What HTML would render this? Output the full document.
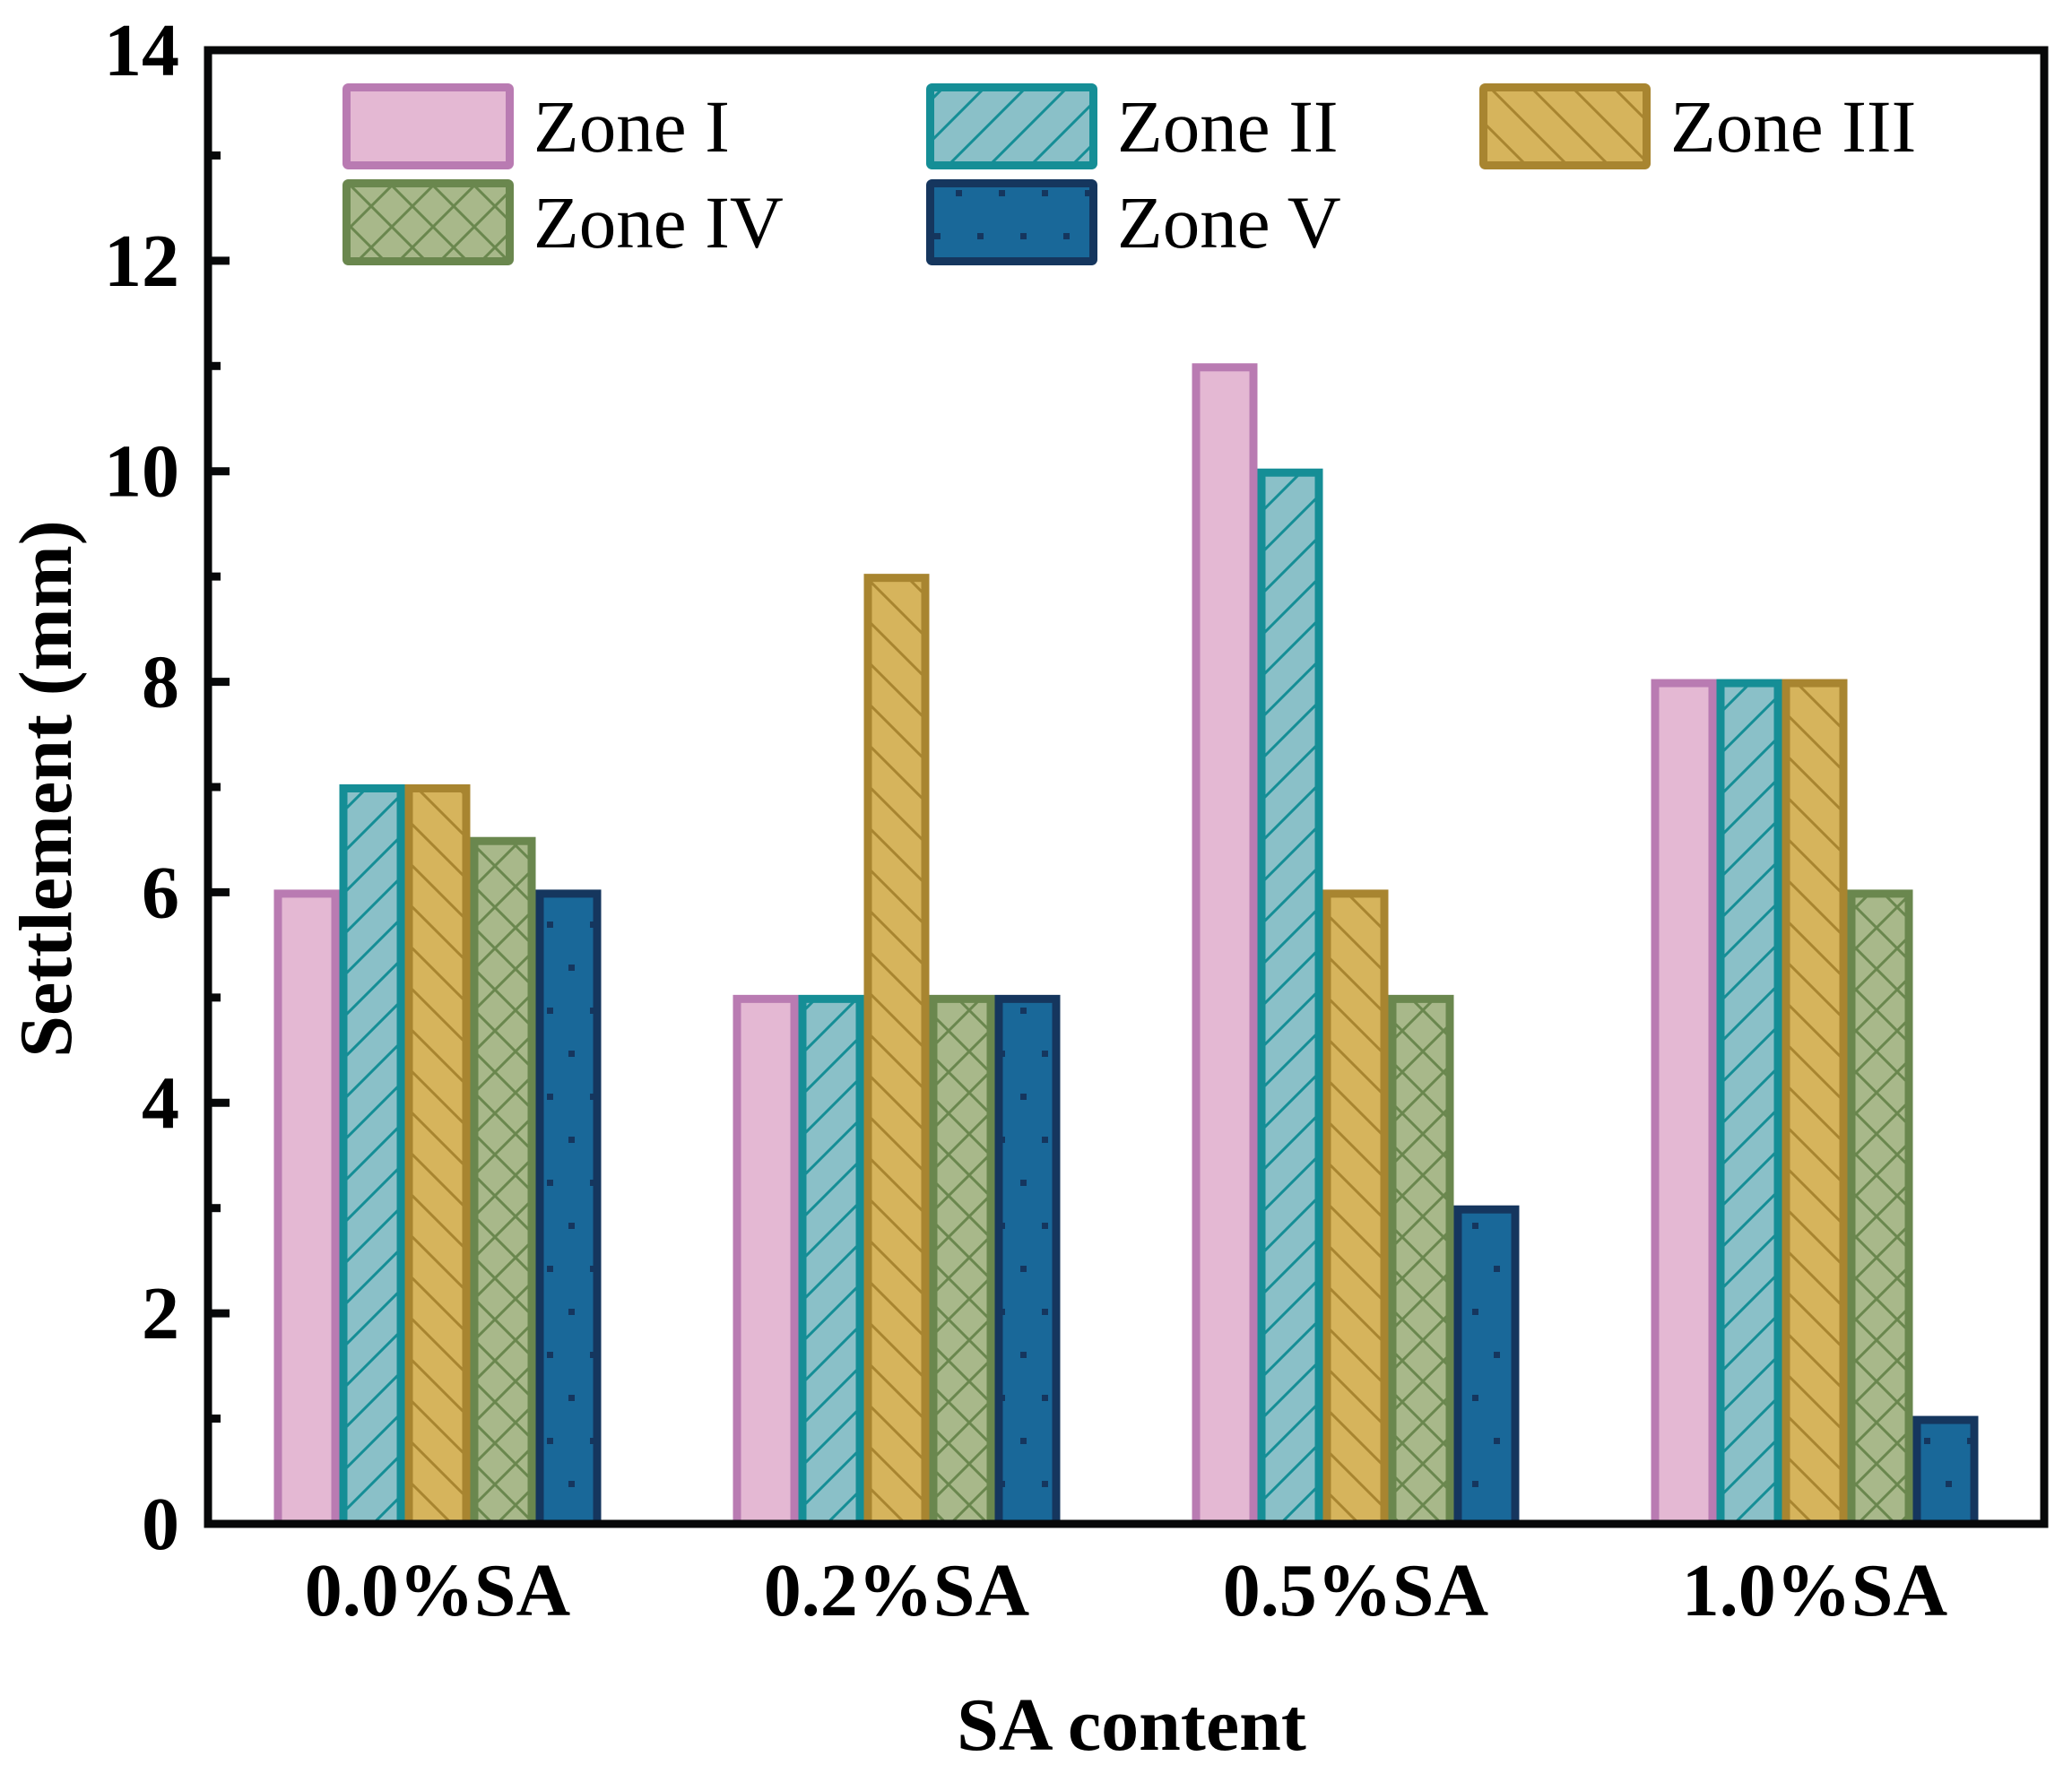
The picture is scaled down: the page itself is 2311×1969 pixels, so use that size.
<!DOCTYPE html>
<html><head><meta charset="utf-8"><style>
html,body{margin:0;padding:0;background:#fff;}
svg{display:block;font-family:"Liberation Serif",serif;}
</style></head><body>
<svg id="chart" width="2311" height="1969" viewBox="0 0 2311 1969" xmlns="http://www.w3.org/2000/svg">
<defs>
<pattern id="pat-teal" patternUnits="userSpaceOnUse" width="46" height="46"><rect width="46" height="46" fill="#8AC0C8"/><path d="M-5,51 L51,-5 M-28,28 L28,-28 M18,74 L74,18" stroke="#158E96" stroke-width="3"/></pattern>
<pattern id="pat-gold" patternUnits="userSpaceOnUse" width="46" height="46"><rect width="46" height="46" fill="#D6B45C"/><path d="M-5,-5 L51,51 M-28,18 L28,74 M18,-28 L74,28" stroke="#A88530" stroke-width="3"/></pattern>
<pattern id="pat-green" patternUnits="userSpaceOnUse" width="46" height="46"><rect width="46" height="46" fill="#A8B88A"/><path d="M-5,-5 L51,51 M-5,51 L51,-5" stroke="#6A874E" stroke-width="3"/></pattern>
<pattern id="pat-blue" patternUnits="userSpaceOnUse" width="48" height="96"><rect width="48" height="96" fill="#196899"/><rect x="10" y="20" width="7" height="7" fill="#15365E"/><rect x="34" y="68" width="7" height="7" fill="#15365E"/></pattern>
</defs>
<g id="bars"></g>
<g id="axes"></g>
<g id="legend"></g>
<text x="1262" y="1952" font-size="84" font-weight="bold" text-anchor="middle">SA content</text>
<text transform="translate(79,880) rotate(-90)" font-size="84" font-weight="bold" text-anchor="middle">Settlement (mm)</text>
</svg>
<script>
const categories = ["0.0%SA","0.2%SA","0.5%SA","1.0%SA"];
const seriesNames = ["Zone I","Zone II","Zone III","Zone IV","Zone V"];
const zone1 = [6,5,11,8];
const zone2 = [7,5,10,8];
const zone3 = [7,9,6,8];
const zone4 = [6.5,5,5,6];
const zone5 = [6,5,3,1];
const yTicks = [0,2,4,6,8,10,12,14];

const seriesValues = [zone1,zone2,zone3,zone4,zone5];
const fills = ["#E4B8D3","url(#pat-teal)","url(#pat-gold)","url(#pat-green)","url(#pat-blue)"];
const strokes = ["#B97BB2","#158E96","#A88530","#6A874E","#15365E"];
const NS = "http://www.w3.org/2000/svg";
const L=232, R=2280, T=56, B=1700, yMax=14;
const y = v => B - v/yMax*(B-T);
const groupW = (R-L)/categories.length;
const barW = 73;
const xBar = (ci,si) => L + groupW*(ci+0.5) + (si-2.5)*barW;
function mk(tag, attrs, parent){const e=document.createElementNS(NS,tag);for(const k in attrs)e.setAttribute(k,attrs[k]);parent.appendChild(e);return e;}

const bars=document.getElementById('bars');
categories.forEach((c,ci)=>{
  seriesValues.forEach((vals,si)=>{
    const x=xBar(ci,si)+4.5, yy=y(vals[ci])+1.5;
    const r=mk('rect',{x:x,y:yy,width:barW-9,height:Math.max(0,B-yy),fill:fills[si],stroke:strokes[si],'stroke-width':9},bars);
    
    
  });
});

const axes=document.getElementById('axes');
const frame=mk('rect',{x:L,y:T,width:R-L,height:B-T,fill:'none',stroke:'#070809','stroke-width':9},axes);


yTicks.forEach(v=>{
  const t=mk('line',{x1:L,x2:L+24,y1:y(v),y2:y(v),stroke:'#070809','stroke-width':9},axes);
  
  
  if(v<yMax){
    const m=mk('line',{x1:L,x2:L+14,y1:y(v+1),y2:y(v+1),stroke:'#070809','stroke-width':9},axes);
    
    
  }
  const lb=mk('text',{x:200,y:y(v)+28,'font-size':84,'font-weight':'bold','text-anchor':'end'},axes);
  lb.textContent=v;
  
  
});
categories.forEach((c,ci)=>{
  const lb=mk('text',{x:L+groupW*(ci+0.5),y:1802,'font-size':84,'font-weight':'bold','text-anchor':'middle'},axes);
  lb.textContent=c;
  
  
});

const legend=document.getElementById('legend');
const lx=[382,1033,1650,382,1033], ly=[93,93,93,200,200];
seriesNames.forEach((n,si)=>{
  const g=mk('g',{},legend);
  
  
  mk('rect',{x:lx[si]+4.5,y:ly[si]+4.5,width:182,height:87,fill:fills[si],stroke:strokes[si],'stroke-width':9,rx:2},g);
  const t=mk('text',{x:lx[si]+213,y:ly[si]+76,'font-size':83},g);
  t.textContent=n;
});
</script>
</body></html>
